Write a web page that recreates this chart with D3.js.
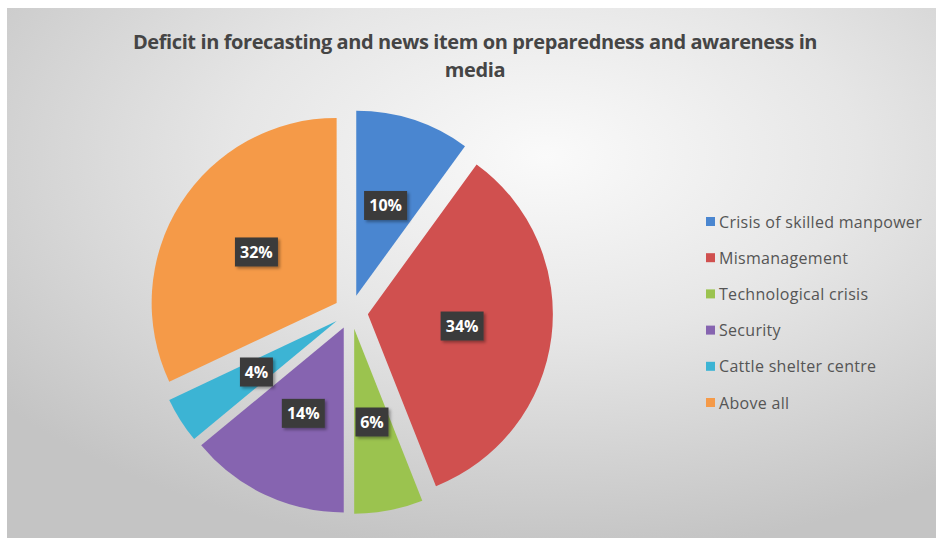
<!DOCTYPE html>
<html>
<head>
<meta charset="utf-8">
<script src="https://cdn.jsdelivr.net/npm/d3@7"></script>
<style>
  body { margin: 0; background: #fff; }
  svg { display: block; }
</style>
</head>
<body>
<script>
var categories = ["Crisis of skilled manpower", "Mismanagement", "Technological crisis",
                  "Security", "Cattle shelter centre", "Above all"];
var values = [10, 34, 6, 14, 4, 32];
var colors = ["#4a86d0", "#d0504f", "#9bc34f", "#8664b0", "#3cb4d4", "#f59a48"];
var titleLines = ["Deficit in forecasting and news item on preparedness and awareness in", "media"];

var width = 936, height = 538;
var cx = 351, cy = 312, radius = 185, explode = 17;

var svg = d3.select("body").append("svg")
  .attr("width", width)
  .attr("height", height);

var defs = svg.append("defs");
var grad = defs.append("radialGradient")
  .attr("id", "bg")
  .attr("cx", "58%").attr("cy", "28%").attr("r", "75%");
grad.append("stop").attr("offset", "0%").attr("stop-color", "#fafafa");
grad.append("stop").attr("offset", "45%").attr("stop-color", "#e6e6e6");
grad.append("stop").attr("offset", "100%").attr("stop-color", "#c4c4c4");

var shadow = defs.append("filter").attr("id", "shadow")
  .attr("x", "-30%").attr("y", "-30%").attr("width", "160%").attr("height", "160%");
shadow.append("feDropShadow").attr("dx", 2).attr("dy", 2).attr("stdDeviation", 1.5)
  .attr("flood-color", "#000").attr("flood-opacity", 0.35);

svg.append("rect")
  .attr("x", 7).attr("y", 8)
  .attr("width", width - 7).attr("height", height - 8)
  .attr("fill", "url(#bg)");

// title
svg.append("g").selectAll("text")
  .data(titleLines)
  .join("text")
    .attr("x", 475)
    .attr("y", function(d, i) { return 49 + i * 28; })
    .attr("text-anchor", "middle")
    .attr("font-family", "'Open Sans', sans-serif")
    .attr("font-weight", "bold")
    .attr("font-size", 20)
    .attr("letter-spacing", -0.4)
    .attr("fill", "#454545")
    .text(function(d) { return d; });

var pie = d3.pie().sort(null).value(function(d) { return d; });
var arcs = pie(values);
var arc = d3.arc().innerRadius(0).outerRadius(radius);
var labelArc = d3.arc().innerRadius(95).outerRadius(95);

function offset(d) {
  var a = (d.startAngle + d.endAngle) / 2;
  return [explode * Math.sin(a), -explode * Math.cos(a)];
}

var g = svg.append("g").attr("transform", "translate(" + cx + "," + cy + ")");

g.selectAll("path.slice")
  .data(arcs)
  .join("path")
    .attr("class", "slice")
    .attr("transform", function(d) { var o = offset(d); return "translate(" + o[0] + "," + o[1] + ")"; })
    .attr("d", arc)
    .attr("fill", function(d, i) { return colors[i]; });

var totals = d3.sum(values);
var labels = g.selectAll("g.label")
  .data(arcs)
  .join("g")
    .attr("class", "label")
    .attr("transform", function(d) {
      var o = offset(d), c = labelArc.centroid(d);
      return "translate(" + (o[0] + c[0]) + "," + (o[1] + c[1]) + ")";
    });

labels.each(function(d) {
  var sel = d3.select(this);
  var txt = Math.round(d.value / totals * 100) + "%";
  var w = txt.length * 10 + 13, h = 29;
  sel.append("rect")
    .attr("x", -w / 2).attr("y", -h / 2)
    .attr("width", w).attr("height", h)
    .attr("fill", "#3a3a3a")
    .attr("filter", "url(#shadow)");
  sel.append("text")
    .attr("text-anchor", "middle")
    .attr("dy", "0.36em")
    .attr("font-family", "'Open Sans', sans-serif")
    .attr("font-weight", "bold")
    .attr("font-size", 16)
    .attr("fill", "#fff")
    .text(txt);
});

// legend
var legend = svg.append("g").attr("transform", "translate(706,222)");
var rows = legend.selectAll("g")
  .data(categories)
  .join("g")
    .attr("transform", function(d, i) { return "translate(0," + (i * 36.2) + ")"; });
rows.append("rect")
  .attr("x", 0).attr("y", -5)
  .attr("width", 9).attr("height", 9)
  .attr("fill", function(d, i) { return colors[i]; });
rows.append("text")
  .attr("x", 13)
  .attr("dy", "0.35em")
  .attr("font-family", "'Open Sans', sans-serif")
  .attr("font-size", 16)
  .attr("letter-spacing", 0.3)
  .attr("fill", "#555")
  .text(function(d) { return d; });
</script>
</body>
</html>
